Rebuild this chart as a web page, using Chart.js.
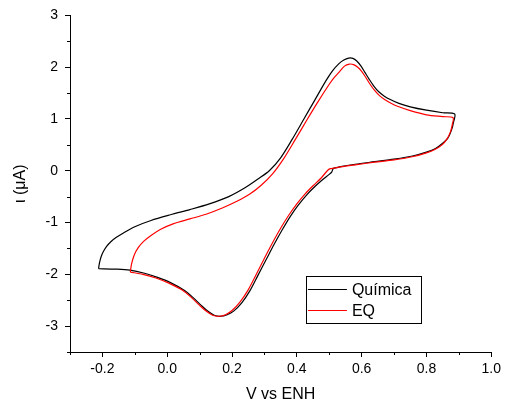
<!DOCTYPE html>
<html>
<head>
<meta charset="utf-8">
<script src="https://cdn.jsdelivr.net/npm/chart.js@4.4.1/dist/chart.umd.min.js"></script>
<style>
    html, body { margin: 0; padding: 0; background: #fff; }
</style>
</head>
<body>
<canvas id="chart-canvas" width="505" height="404"></canvas>
<script>
// Voltamograma: potencial (V vs ENH) y corriente (uA)
// Química: barrido anódico y luego el catódico, vuelve al inicio
const quimicaV = [-0.212, -0.209, -0.204, -0.197, -0.187, -0.174, -0.158, -0.135, -0.100, -0.050, 0.010, 0.070, 0.130,
    0.190, 0.240, 0.280, 0.315, 0.350, 0.385, 0.420, 0.455, 0.490, 0.510, 0.530, 0.545, 0.560, 0.573, 0.585,
    0.597, 0.610, 0.623, 0.637, 0.652, 0.670, 0.690, 0.715, 0.750, 0.800, 0.850, 0.887,
    0.884, 0.877, 0.866, 0.850, 0.828, 0.800, 0.760, 0.700, 0.640, 0.580, 0.535, 0.515, 0.512, 0.508,
    0.500, 0.480, 0.455, 0.430, 0.405, 0.380, 0.355, 0.330, 0.305, 0.280, 0.255, 0.230, 0.205, 0.185,
    0.165, 0.145, 0.125, 0.105, 0.080, 0.050, 0.010, -0.030, -0.070, -0.115, -0.160, -0.212];
const quimicaI = [-1.891, -1.780, -1.660, -1.560, -1.460, -1.370, -1.290, -1.200, -1.080, -0.960, -0.850, -0.750, -0.640,
    -0.500, -0.330, -0.160, 0.000, 0.250, 0.600, 0.980, 1.360, 1.740, 1.930, 2.070, 2.140, 2.175, 2.170, 2.120,
    2.030, 1.900, 1.770, 1.640, 1.530, 1.440, 1.370, 1.300, 1.235, 1.170, 1.120, 1.095,
    0.950, 0.780, 0.630, 0.530, 0.430, 0.360, 0.290, 0.225, 0.175, 0.125, 0.080, 0.050, 0.040, -0.020,
    -0.070, -0.170, -0.310, -0.470, -0.660, -0.880, -1.140, -1.420, -1.720, -2.020, -2.320, -2.550, -2.710, -2.780,
    -2.810, -2.790, -2.710, -2.600, -2.450, -2.300, -2.160, -2.060, -1.980, -1.920, -1.900, -1.891];

// EQ
const eqV = [-0.114, -0.110, -0.102, -0.090, -0.072, -0.050, -0.020, 0.020, 0.070, 0.120, 0.170,
    0.215, 0.255, 0.290, 0.325, 0.360, 0.395, 0.430, 0.465, 0.500, 0.515, 0.530, 0.547, 0.562, 0.575, 0.588,
    0.600, 0.613, 0.626, 0.640, 0.655, 0.672, 0.692, 0.715, 0.750, 0.800, 0.850, 0.882,
    0.880, 0.874, 0.863, 0.848, 0.826, 0.800, 0.760, 0.700, 0.640, 0.580, 0.535, 0.515, 0.503, 0.494,
    0.475, 0.450, 0.425, 0.400, 0.375, 0.350, 0.325, 0.300, 0.275, 0.250, 0.225, 0.200, 0.180, 0.160,
    0.140, 0.120, 0.100, 0.075, 0.045, 0.005, -0.035, -0.075, -0.114];
const eqI = [-1.956, -1.800, -1.630, -1.490, -1.360, -1.250, -1.130, -1.020, -0.930, -0.840, -0.720,
    -0.590, -0.450, -0.280, -0.060, 0.240, 0.600, 0.970, 1.330, 1.670, 1.800, 1.900, 2.020, 2.060, 2.050, 2.000,
    1.920, 1.800, 1.670, 1.550, 1.450, 1.370, 1.300, 1.235, 1.160, 1.080, 1.045, 1.025,
    0.900, 0.750, 0.610, 0.500, 0.410, 0.345, 0.275, 0.210, 0.165, 0.115, 0.075, 0.050, 0.040, 0.000,
    -0.140, -0.290, -0.450, -0.640, -0.860, -1.110, -1.390, -1.690, -2.000, -2.300, -2.530, -2.700, -2.780, -2.810,
    -2.790, -2.710, -2.600, -2.450, -2.300, -2.170, -2.070, -2.000, -1.956];

// Ticks
const xTicks = [-0.2, 0.0, 0.2, 0.4, 0.6, 0.8, 1.0];
const yTicks = [-3, -2, -1, 0, 1, 2, 3];
const xMinor = [-0.3, -0.1, 0.1, 0.3, 0.5, 0.7, 0.9];
const yMinor = [-3.5, -2.5, -1.5, -0.5, 0.5, 1.5, 2.5];

const toPoints = (xs, ys) => xs.map((x, i) => ({ x: x, y: ys[i] }));

const FONT = "'Liberation Sans', Arial, sans-serif";

// minor ticks, short marks outside the axes
const minorTicks = {
    id: 'minorTicks',
    afterDraw(chart) {
        const { ctx, scales } = chart;
        ctx.save();
        ctx.strokeStyle = '#000';
        ctx.lineWidth = 1;
        ctx.beginPath();
        xMinor.forEach(v => {
            const px = Math.round(scales.x.getPixelForValue(v)) + 0.5;
            ctx.moveTo(px, scales.x.top);
            ctx.lineTo(px, scales.x.top + 3);
        });
        yMinor.forEach(v => {
            const py = Math.round(scales.y.getPixelForValue(v)) + 0.5;
            ctx.moveTo(scales.y.right, py);
            ctx.lineTo(scales.y.right - 3, py);
        });
        ctx.stroke();
        ctx.restore();
    }
};

// legend box inside the plot
const boxLegend = {
    id: 'boxLegend',
    afterDraw(chart) {
        const { ctx, chartArea: a } = chart;
        const x = a.left + (a.right - a.left) * 0.56;
        const y = a.top + (a.bottom - a.top) * 0.773;
        const w = 115, h = 47;
        ctx.save();
        ctx.fillStyle = '#fff';
        ctx.fillRect(x, y, w, h);
        ctx.strokeStyle = '#000';
        ctx.lineWidth = 1;
        ctx.strokeRect(Math.round(x) + 0.5, Math.round(y) + 0.5, w, h);
        ctx.font = '16px ' + FONT;
        ctx.textBaseline = 'middle';
        chart.data.datasets.forEach((ds, i) => {
            const ly = Math.round(y + 13 + i * 21.5) + 0.5;
            ctx.strokeStyle = ds.borderColor;
            ctx.beginPath();
            ctx.moveTo(x + 2, ly);
            ctx.lineTo(x + 41, ly);
            ctx.stroke();
            ctx.fillStyle = '#000';
            ctx.fillText(ds.label, x + 46, ly + 1);
        });
        ctx.restore();
    }
};

const canvas = document.getElementById('chart-canvas');

new Chart(canvas.getContext('2d'), {
    type: 'scatter',
    data: {
        datasets: [
            {
                label: 'Química',
                data: toPoints(quimicaV, quimicaI),
                borderColor: '#000000',
                borderWidth: 1.2,
                showLine: true,
                pointRadius: 0,
                tension: 0.3,
                order: 2
            },
            {
                label: 'EQ',
                data: toPoints(eqV, eqI),
                borderColor: '#ff0000',
                borderWidth: 1.2,
                showLine: true,
                pointRadius: 0,
                tension: 0.3,
                order: 1
            }
        ]
    },
    options: {
        responsive: false,
        animation: false,
        layout: { padding: { top: 13, right: 12, left: 0, bottom: 0 } },
        plugins: {
            legend: { display: false },
            tooltip: { enabled: false }
        },
        scales: {
            x: {
                type: 'linear',
                min: -0.3,
                max: 1.0,
                afterBuildTicks: s => { s.ticks = xTicks.map(v => ({ value: v })); },
                afterFit: s => { s.height = 52; },
                border: { display: true, color: '#000', width: 1 },
                grid: { drawOnChartArea: false, drawTicks: true, tickLength: 5, tickColor: '#000' },
                ticks: {
                    color: '#000',
                    padding: 4,
                    maxRotation: 0,
                    font: { family: FONT, size: 14 },
                    callback: v => v.toFixed(1)
                },
                title: {
                    display: true,
                    text: 'V vs ENH',
                    color: '#000',
                    font: { family: FONT, size: 16 },
                    padding: { top: 0, bottom: 0 }
                }
            },
            y: {
                type: 'linear',
                min: -3.5,
                max: 3,
                afterBuildTicks: s => { s.ticks = yTicks.map(v => ({ value: v })); },
                afterFit: s => { s.width = 70; },
                border: { display: true, color: '#000', width: 1 },
                grid: { drawOnChartArea: false, drawTicks: true, tickLength: 5, tickColor: '#000' },
                ticks: {
                    color: '#000',
                    padding: 7,
                    font: { family: FONT, size: 14 },
                    callback: v => String(v)
                },
                title: {
                    display: true,
                    text: 'ι (μA)',
                    color: '#000',
                    font: { family: FONT, size: 16 },
                    padding: { top: 11, bottom: 0 }
                }
            }
        }
    },
    plugins: [minorTicks, boxLegend]
});
</script>
</body>
</html>
